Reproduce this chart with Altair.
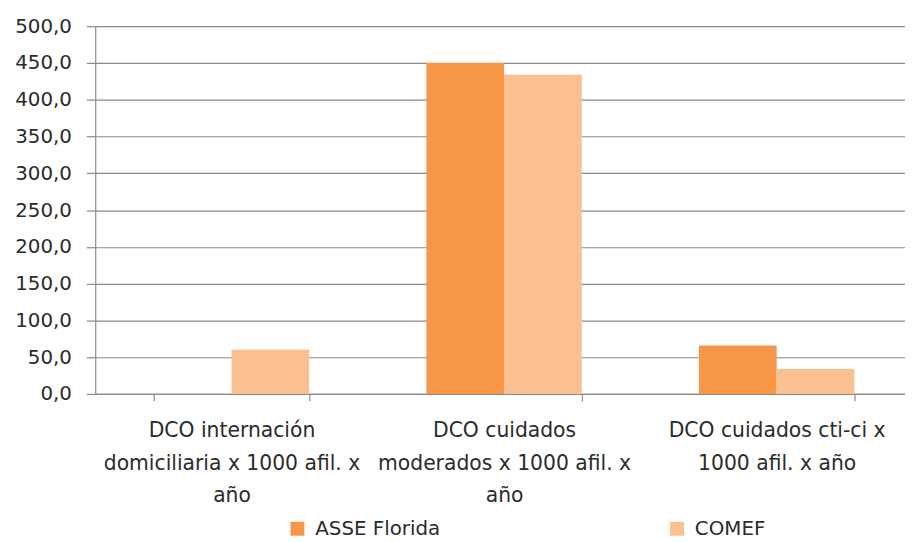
import altair as alt
import pandas as pd

label_lines = [
    ["DCO internación", "domiciliaria x 1000 afil. x", "año"],
    ["DCO cuidados", "moderados x 1000 afil. x", "año"],
    ["DCO cuidados cti-ci x", "1000 afil. x año"],
]
categories = ["|".join(l) for l in label_lines]
series = ["ASSE Florida", "COMEF"]
asse_florida = [0.0, 450.0, 66.0]
comef = [60.0, 434.0, 34.0]
colors = ["#F79646", "#FAC090"]
y_ticks = [0, 50, 100, 150, 200, 250, 300, 350, 400, 450, 500]

rows = []
for i, c in enumerate(categories):
    rows.append({"cat": c, "serie": series[0], "valor": asse_florida[i]})
    rows.append({"cat": c, "serie": series[1], "valor": comef[i]})
df = pd.DataFrame(rows)

FONT = "DejaVu Sans"
TXT = "#2b2b2b"
GRID = "#8a8a8a"

chart = (
    alt.Chart(df)
    .mark_bar()
    .encode(
        x=alt.X(
            "cat:N",
            sort=categories,
            scale=alt.Scale(paddingInner=0.43, paddingOuter=0.215, range=[0, 825]),
            axis=alt.Axis(
                title=None,
                labelExpr="split(datum.label, '|')",
                labelAngle=0,
                labelFont=FONT,
                labelFontSize=20.5,
                labelColor=TXT,
                labelLineHeight=33,
                labelPadding=20,
                labelLimit=400,
                tickBand="extent",
                tickSize=7,
                tickColor=GRID,
                domainColor=GRID,
                labelBaseline="top",
            ),
        ),
        xOffset=alt.XOffset("serie:N", sort=series),
        y=alt.Y(
            "valor:Q",
            scale=alt.Scale(domain=[0, 500], nice=False),
            axis=alt.Axis(
                title=None,
                values=y_ticks,
                labelExpr="replace(format(datum.value, '.1f'), '.', ',')",
                labelFont=FONT,
                labelFontSize=20,
                labelColor=TXT,
                labelPadding=15,
                tickSize=9,
                tickColor=GRID,
                domainColor=GRID,
                gridColor=GRID,
                gridWidth=1.2,
            ),
        ),
        color=alt.Color(
            "serie:N",
            sort=series,
            scale=alt.Scale(domain=series, range=colors),
            legend=alt.Legend(
                title=None,
                orient="none",
                direction="horizontal",
                legendX=194,
                legendY=497,
                symbolType="square",
                symbolSize=196,
                symbolStrokeWidth=0,
                labelFont=FONT,
                labelFontSize=20,
                labelColor=TXT,
                columnPadding=228,
                labelOffset=8,
            ),
        ),
    )
    .properties(
        width=816,
        height=371,
        autosize=alt.AutoSizeParams(type="none"),
        padding={"left": 88, "top": 16, "right": 1, "bottom": 147},
    )
    .configure_view(stroke=None)
    .configure_axis(domainWidth=1.2, tickWidth=1.2)
)

chart.save("out.html", embed_options={"renderer": "svg", "actions": False})
